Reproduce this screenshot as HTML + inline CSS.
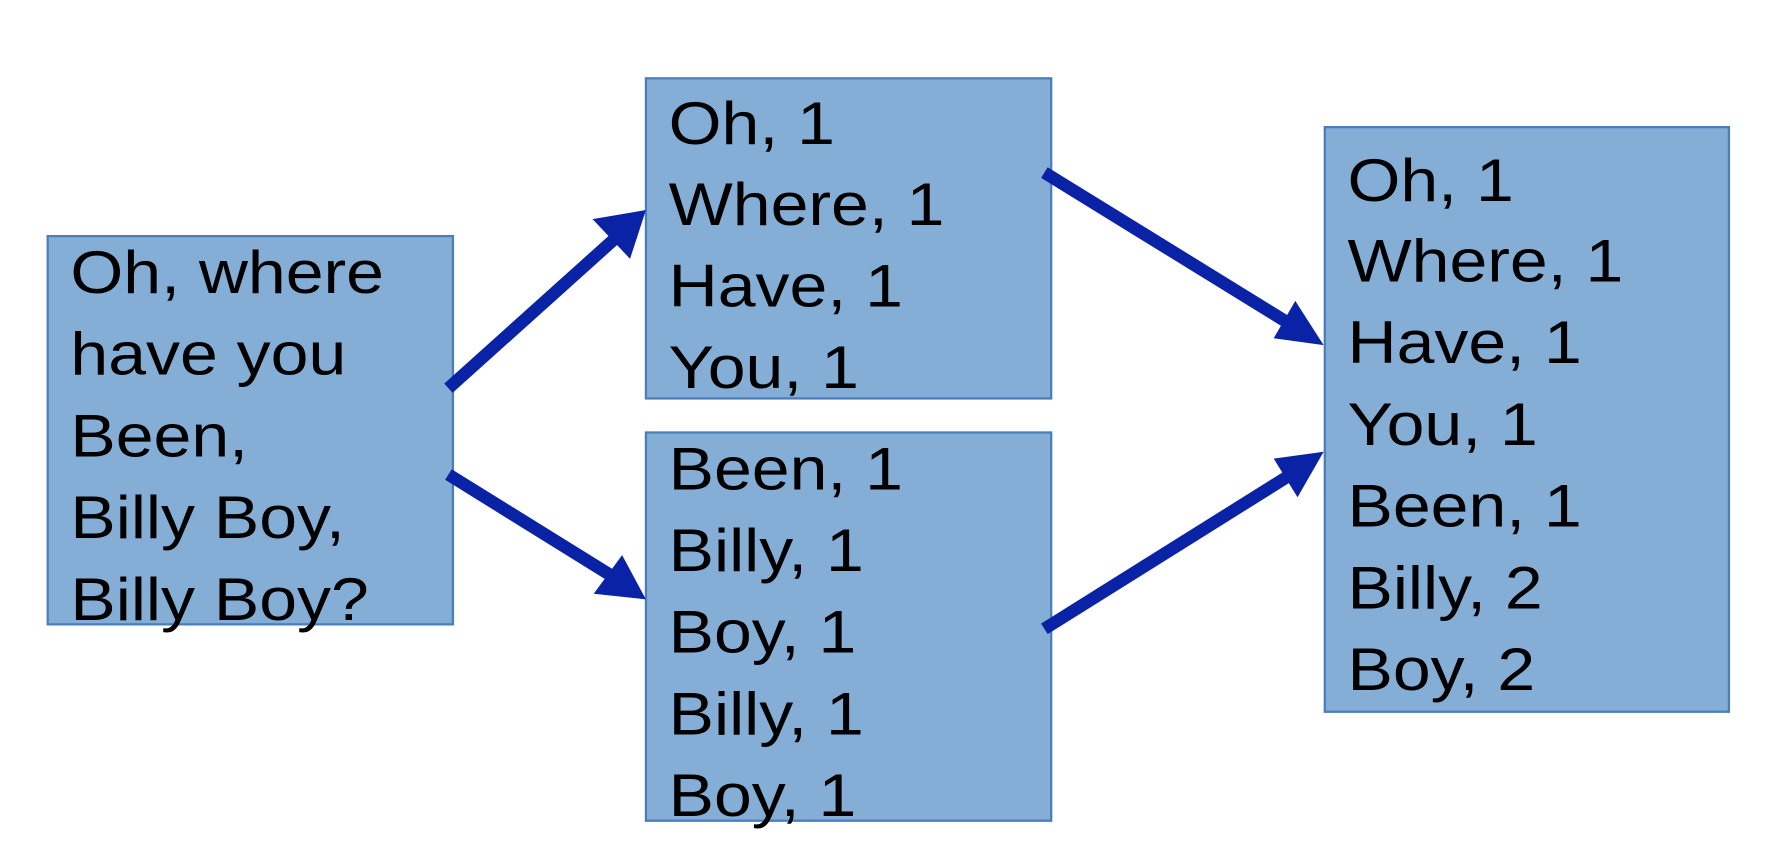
<!DOCTYPE html>
<html><head><style>html,body{margin:0;padding:0;background:#fff}svg{display:block}</style></head>
<body>
<svg width="1780" height="860" viewBox="0 0 1568 757.6" preserveAspectRatio="none" xmlns="http://www.w3.org/2000/svg">
<g fill="#84AED6" stroke="#4A7EBB" stroke-width="2">
<rect x="42" y="208" width="357" height="342"/>
<rect x="569" y="69" width="357" height="282"/>
<rect x="569" y="381" width="357" height="342"/>
<rect x="1167" y="112" width="356" height="515"/>
</g>
<g font-family="Liberation Sans, sans-serif" font-size="53" fill="#000">
<g transform="translate(62,0) scale(1.13,1)">
<text x="0" y="258">Oh, where</text>
<text x="0" y="330">have you</text>
<text x="0" y="402">Been,</text>
<text x="0" y="474">Billy Boy,</text>
<text x="0" y="546">Billy Boy?</text>
</g>
<g transform="translate(589,0) scale(1.13,1)">
<text x="0" y="127">Oh, 1</text>
<text x="0" y="198">Where, 1</text>
<text x="0" y="270">Have, 1</text>
<text x="0" y="342">You, 1</text>
<text x="0" y="431">Been, 1</text>
<text x="0" y="503">Billy, 1</text>
<text x="0" y="575">Boy, 1</text>
<text x="0" y="647">Billy, 1</text>
<text x="0" y="719">Boy, 1</text>
</g>
<g transform="translate(1187,0) scale(1.13,1)">
<text x="0" y="177">Oh, 1</text>
<text x="0" y="248">Where, 1</text>
<text x="0" y="320">Have, 1</text>
<text x="0" y="392">You, 1</text>
<text x="0" y="464">Been, 1</text>
<text x="0" y="536">Billy, 2</text>
<text x="0" y="608">Boy, 2</text>
</g>
</g>
<g stroke="#0A22A6" stroke-width="11" fill="none">
<line x1="395" y1="342" x2="543" y2="209"/>
<line x1="395" y1="418" x2="540" y2="508"/>
<line x1="920" y1="152" x2="1134" y2="284"/>
<line x1="920" y1="554" x2="1134" y2="420"/>
</g>
<g fill="#0A22A6">
<polygon points="569,185 522,193 555,228"/>
<polygon points="569,528 523,523 548,489"/>
<polygon points="1166,304 1122,298 1141,265"/>
<polygon points="1166,398 1122,404 1143,438"/>
</g>
</svg>
</body></html>
